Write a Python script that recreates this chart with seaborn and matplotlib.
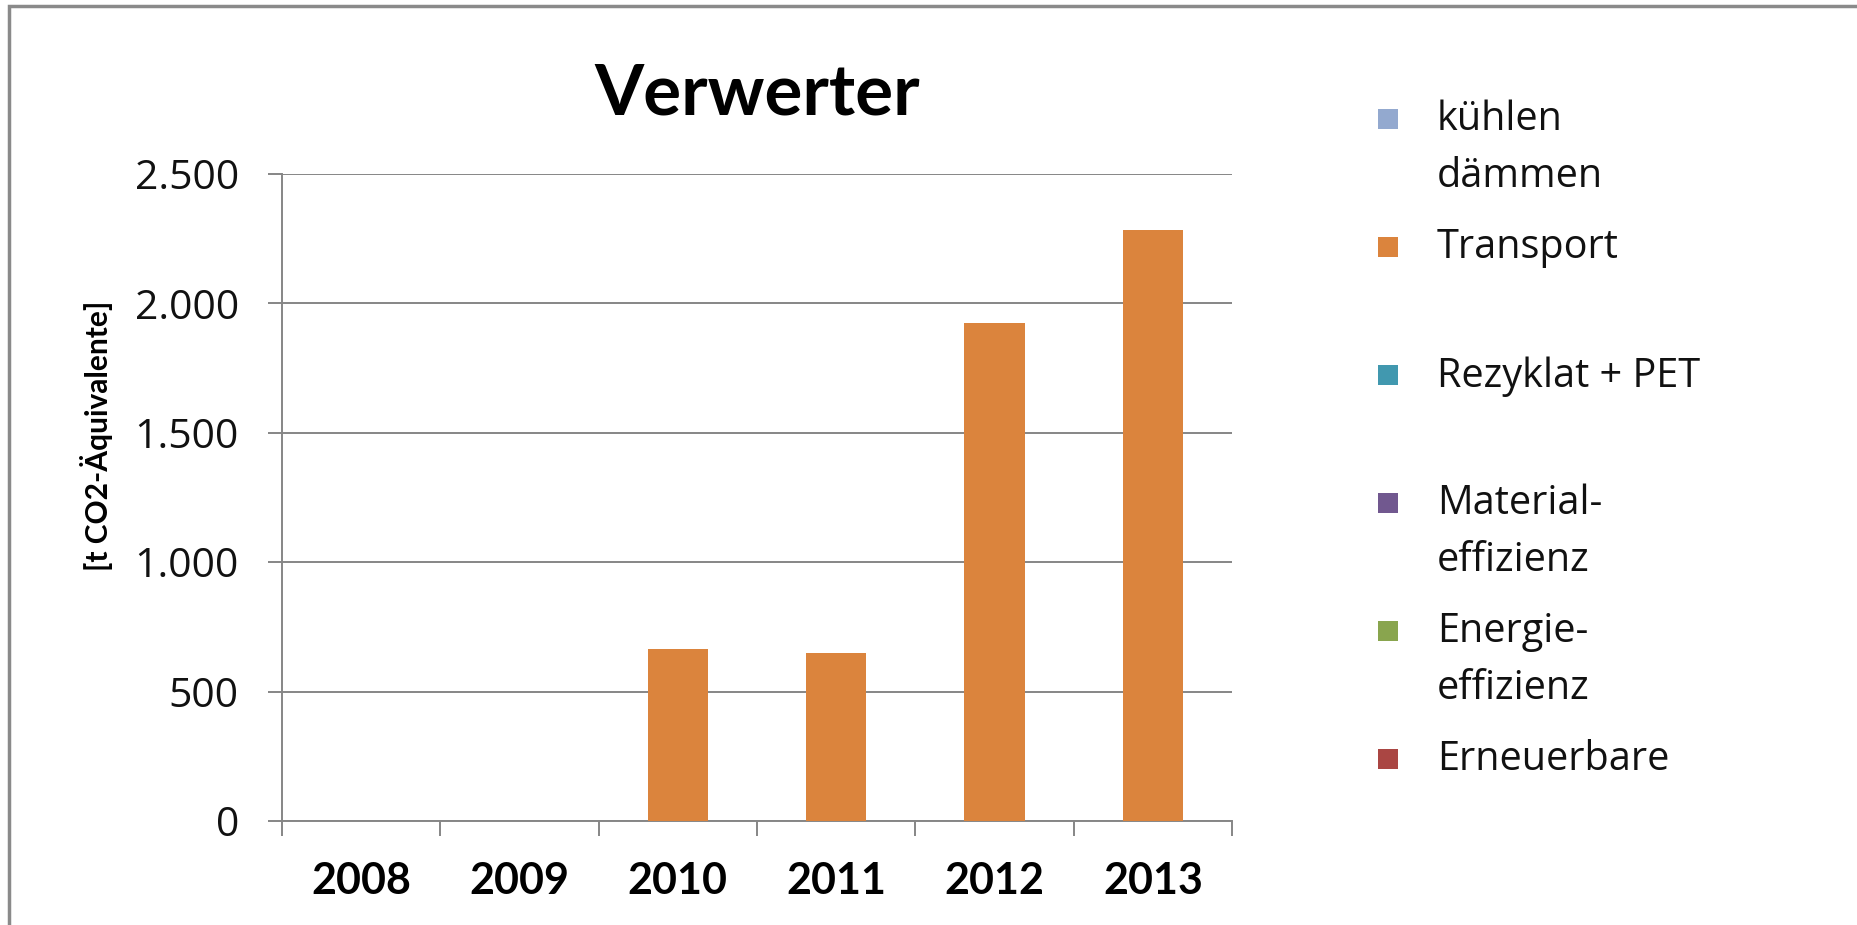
import matplotlib
matplotlib.use("Agg")
import matplotlib.pyplot as plt
import numpy as np
import pandas as pd
import seaborn as sns
from matplotlib.patches import Rectangle

# Chart data
years = ["2008", "2009", "2010", "2011", "2012", "2013"]
transport = [0, 0, 664, 650, 1923, 2285]

# Legend entries (only "Transport" has non-zero values)
series_labels = [
    "kühlen\ndämmen",
    "Transport",
    "Rezyklat + PET",
    "Material-\neffizienz",
    "Energie-\neffizienz",
    "Erneuerbare",
]
series_colors = ["#93A9CF", "#DB843D", "#4198AF", "#71588F", "#89A54E", "#AA4643"]

y_ticks = [0, 500, 1000, 1500, 2000, 2500]
y_tick_labels = ["0", "500", "1.000", "1.500", "2.000", "2.500"]

title = "Verwerter"
y_label = "[t CO2-Äquivalente]"

W, H = 1858, 925
GRAY = "#868686"


def draw_legend(fig):
    """Excel-style legend: equal slot per entry, square next to first line."""
    top = 109  # px from top of first square
    step = 128
    size = 20
    for i, (label, color) in enumerate(zip(series_labels, series_colors)):
        y_top = top + i * step
        fig.add_artist(
            Rectangle(
                (1378 / W, 1 - (y_top + size) / H),
                size / W,
                size / H,
                transform=fig.transFigure,
                facecolor=color,
                edgecolor="none",
            )
        )
        # va="top" keeps the square next to the first line of the label
        fig.text(
            1437 / W,
            1 - (y_top - 9) / H,
            label,
            fontsize=28.5,
            va="top",
            ha="left",
            color="#111111",
            linespacing=1.52,
        )


def main():
    sns.set_theme(style="white")
    plt.rcParams["font.family"] = ["Open Sans", "DejaVu Sans"]

    fig = plt.figure(figsize=(W / 100, H / 100), dpi=100)
    ax = fig.add_axes([282 / W, 1 - 821 / H, 950 / W, 647 / H])

    df = pd.DataFrame({"year": years, "value": transport})
    sns.barplot(
        data=df, x="year", y="value", color=series_colors[1], saturation=1,
        width=0.38, linewidth=0, ax=ax, zorder=3,
    )

    ax.set_xlim(-0.5, len(years) - 0.5)
    ax.set_ylim(0, 2500)
    ax.set_yticks(y_ticks)
    ax.set_yticklabels(y_tick_labels)
    ax.yaxis.grid(True, color=GRAY, linewidth=1.4)
    ax.set_axisbelow(True)

    for side in ["top", "right"]:
        ax.spines[side].set_visible(False)
    for side in ["left", "bottom"]:
        ax.spines[side].set_color(GRAY)
        ax.spines[side].set_linewidth(1.4)

    ax.tick_params(axis="y", left=True, length=10, width=1.4, color=GRAY,
                   pad=21, labelsize=29.5, labelcolor="#111111")
    ax.set_xticks(np.arange(-0.5, len(years), 1), minor=True)
    ax.tick_params(axis="x", which="major", bottom=False, length=0, pad=29,
                   labelsize=31, labelcolor="#000000")
    ax.tick_params(axis="x", which="minor", bottom=True, length=11, width=1.4,
                   color=GRAY)
    for lab in ax.get_xticklabels():
        lab.set_fontfamily(["Lato", "DejaVu Sans"])
        lab.set_fontweight("bold")

    ax.set_xlabel("")
    ax.set_ylabel(y_label, fontsize=21.5, fontweight="bold", color="#000000",
                  family=["Lato", "DejaVu Sans"])
    ax.yaxis.set_label_coords(-0.178, 0.595)
    ax.set_title(title, fontsize=51, fontweight="bold", color="#000000",
                 family=["Lato", "DejaVu Sans"], pad=43)

    draw_legend(fig)

    # outer chart-area border (right and bottom edges fall outside the picture)
    fig.add_artist(
        Rectangle((9 / W, -0.1), 2, 1.1 - 6.5 / H, transform=fig.transFigure,
                  fill=False, edgecolor="#8a8a8a", linewidth=2.5)
    )

    fig.savefig("out.png", dpi=100, facecolor="white")
    plt.close(fig)


if __name__ == "__main__":
    main()
